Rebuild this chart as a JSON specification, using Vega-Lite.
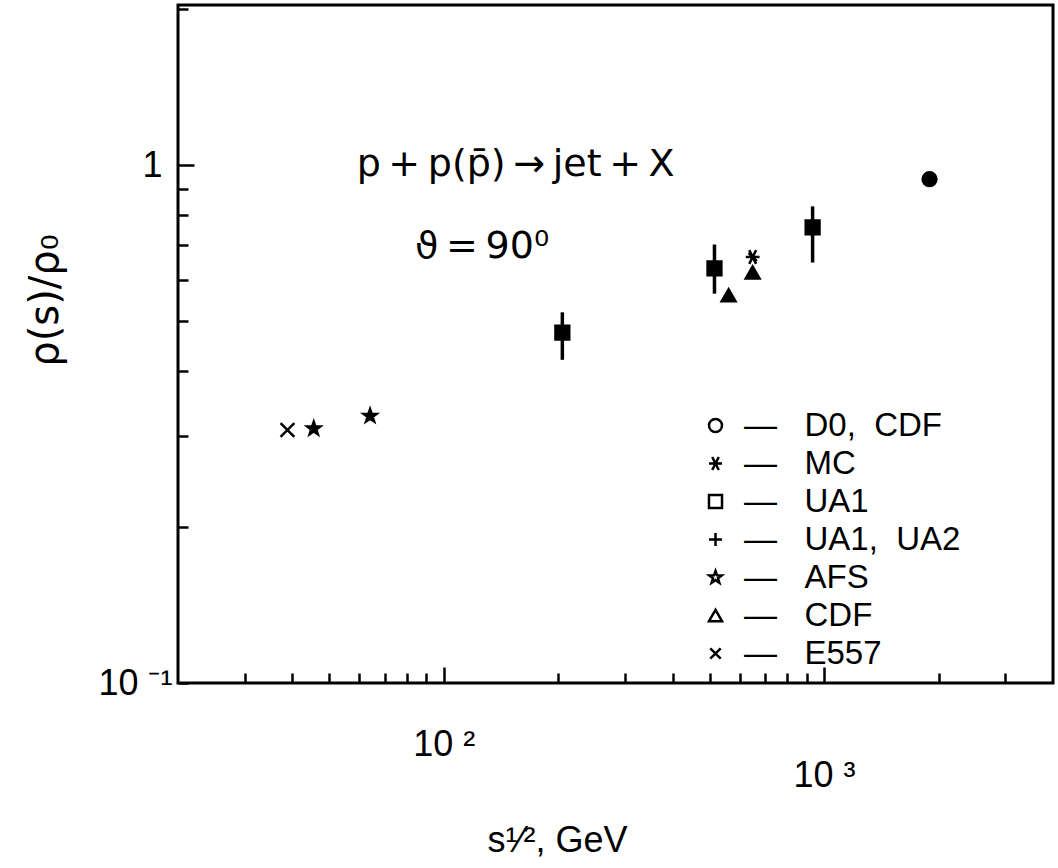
{
  "$schema": "https://vega.github.io/schema/vega-lite/v6.json",
  "autosize": "none",
  "width": 875,
  "height": 678,
  "padding": {"left": 178, "top": 5, "right": 5, "bottom": 185},
  "background": "white",
  "config": {
    "view": {"stroke": "black", "strokeWidth": 3},
    "font": "Liberation Sans",
    "axis": {"domain": false, "grid": false, "tickColor": "black", "tickWidth": 2.5, "labelColor": "black", "titleColor": "black", "labelFont": "Liberation Sans", "titleFont": "Liberation Sans"}
  },
  "datasets": {
    "pts": [
      {"s": 38.8, "r": 0.308, "series": "E557"},
      {"s": 45.5, "r": 0.310, "series": "AFS"},
      {"s": 64, "r": 0.328, "series": "AFS"},
      {"s": 205, "r": 0.475, "lo": 0.421, "hi": 0.520, "series": "UA1,\u00a0\u00a0UA2"},
      {"s": 515, "r": 0.632, "lo": 0.565, "hi": 0.703, "series": "UA1"},
      {"s": 561, "r": 0.561, "series": "CDF"},
      {"s": 649, "r": 0.621, "series": "CDF"},
      {"s": 649, "r": 0.665, "series": "MC"},
      {"s": 933, "r": 0.759, "lo": 0.649, "hi": 0.833, "series": "UA1,\u00a0\u00a0UA2"},
      {"s": 1894, "r": 0.940, "series": "D0,\u00a0\u00a0CDF"}
    ],
    "notes": [
      {"s": 59, "r": 1.0, "txt": "p\u2009+\u2009p(p̄)\u2009→\u2009jet\u2009+\u2009X"},
      {"s": 84, "r": 0.694, "txt": "ϑ\u2009=\u200990⁰"}
    ]
  },
  "encoding": {
    "x": {"field": "s", "type": "quantitative", "scale": {"type": "log", "domain": [20, 4000], "nice": false},
      "axis": {"values": [30, 40, 50, 60, 70, 80, 90, 100, 200, 300, 400, 500, 600, 700, 800, 900, 1000, 2000, 3000],
        "tickSize": {"condition": {"test": "datum.value == 100 || datum.value == 1000", "value": -16}, "value": -10},
        "labelExpr": "datum.value == 100 ? '10 ²' : datum.value == 1000 ? '10 ³' : ''", "labelFontSize": 36, "labelOverlap": false,
        "labelPadding": {"condition": {"test": "datum.value == 1000", "value": 91}, "value": 60},
        "title": "s¹⁄², GeV", "titleFontSize": 36, "titleFontWeight": "normal", "titleX": 379, "titleY": 157, "titleBaseline": "middle", "titleAlign": "center"}},
    "y": {"field": "r", "type": "quantitative", "scale": {"type": "log", "domain": [0.1, 2.04], "nice": false},
      "axis": {"values": [0.1, 0.2, 0.3, 0.4, 0.5, 0.6, 0.7, 0.8, 0.9, 1, 2],
        "tickSize": {"condition": {"test": "datum.value == 1", "value": -16}, "value": -10},
        "labelExpr": "datum.value == 1 ? '1' : datum.value == 0.1 ? '10 ⁻¹' : ''", "labelFontSize": 36, "labelOverlap": false,
        "labelPadding": {"condition": {"test": "datum.value == 1", "value": 32}, "value": 16},
        "title": "ρ(s)/ρ₀", "titleFont": "DejaVu Sans", "titleFontSize": 40, "titleFontWeight": "normal", "titleX": -133, "titleY": 295, "titleBaseline": "middle", "titleAlign": "center", "titleAngle": -90}}
  },
  "layer": [
    {
      "data": {"name": "pts"},
      "mark": {"type": "rule", "color": "black", "strokeWidth": 3.5},
      "encoding": {
        "y": {"field": "lo", "type": "quantitative"},
        "y2": {"field": "hi"}
      }
    },
    {
      "data": {"name": "pts"},
      "mark": {"type": "point", "filled": true, "fill": "black", "stroke": "black", "opacity": 1, "size": 190, "strokeWidth": 2.5},
      "encoding": {
        "shape": {"field": "series", "type": "nominal", "legend": null,
          "scale": {"domain": ["D0,\u00a0\u00a0CDF", "MC", "UA1", "UA1,\u00a0\u00a0UA2", "AFS", "CDF", "E557"],
            "range": ["circle", "M-0.5,-1L0.5,1M0.5,-1L-0.5,1M-1,0L1,0M-0.6,-0.6L0.6,0.6", "square", "square", "M0,-1L0.235,-0.324L0.951,-0.309L0.380,0.124L0.588,0.809L0,0.4L-0.588,0.809L-0.380,0.124L-0.951,-0.309L-0.235,-0.324Z", "triangle-up", "M-1,-1L1,1M-1,1L1,-1"]}}
      }
    },
    {
      "data": {"name": "pts"},
      "mark": {"type": "point", "filled": false, "opacity": 0},
      "encoding": {
        "shape": {"field": "series", "type": "nominal",
          "scale": {"domain": ["D0,\u00a0\u00a0CDF", "MC", "UA1", "UA1,\u00a0\u00a0UA2", "AFS", "CDF", "E557"],
            "range": ["circle", "M-0.5,-1L0.5,1M0.5,-1L-0.5,1M-1,0L1,0", "square", "M-1,0L1,0M0,-1L0,1", "M0,-1L0.235,-0.324L0.951,-0.309L0.380,0.124L0.588,0.809L0,0.4L-0.588,0.809L-0.380,0.124L-0.951,-0.309L-0.235,-0.324Z", "triangle-up", "M-0.8,-0.8L0.8,0.8M-0.8,0.8L0.8,-0.8"]},
          "legend": {"orient": "none", "legendX": 521, "legendY": 404, "title": null, "padding": 0,
            "labelFontSize": 33, "labelColor": "black", "labelFont": "Liberation Sans", "labelOffset": 12, "labelExpr": "'—\u00a0\u00a0\u00a0' + datum.label",
            "symbolSize": 170, "symbolStrokeWidth": 2.5, "symbolStrokeColor": "black", "symbolFillColor": "white", "symbolOpacity": 1, "rowPadding": 4, "labelLimit": 400}}
      }
    },
    {
      "data": {"name": "notes"},
      "mark": {"type": "text", "align": "left", "baseline": "middle", "fontSize": 38, "color": "black", "font": "DejaVu Sans"},
      "encoding": {
        "text": {"field": "txt"}
      }
    }
  ],
  "resolve": {"scale": {"shape": "independent"}}
}
